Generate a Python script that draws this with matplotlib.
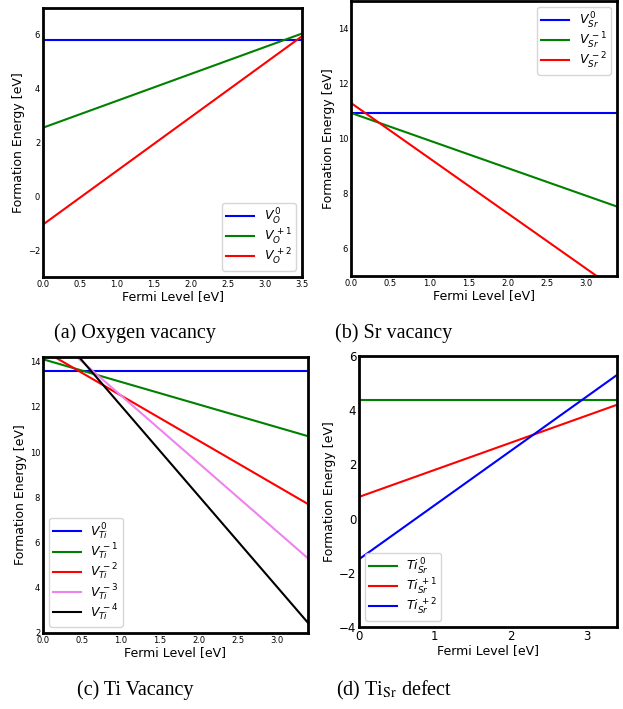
import matplotlib
matplotlib.use('Agg')
import matplotlib.pyplot as plt

# (a) oxygen vacancy, values read at Fermi level 0 and 3.5 eV
a_x = [0.0, 3.5]
a_vo0 = [5.8, 5.8]
a_vo1 = [2.55, 6.05]
a_vo2 = [-1.05, 5.95]

# (b) Sr vacancy, Fermi level 0 and 3.4 eV
b_x = [0.0, 3.4]
b_vsr0 = [10.92, 10.92]
b_vsr1 = [10.92, 7.52]
b_vsr2 = [11.28, 4.48]

# (c) Ti vacancy
c_x = [0.0, 3.4]
c_vti0 = [13.6, 13.6]
c_vti1 = [14.1, 10.7]
c_vti2 = [14.5, 7.7]
c_vti3 = [15.5, 5.3]
c_vti4 = [16.05, 2.45]

# (d) Ti on Sr site
d_x = [0.0, 3.4]
d_tisr0 = [4.38, 4.38]
d_tisr1 = [0.8, 4.2]
d_tisr2 = [-1.5, 5.3]

W, H = 623, 709
fig = plt.figure(figsize=(W / 100, H / 100), dpi=100)


def pix_axes(left, top, right, bottom):
    return fig.add_axes([left / W, 1 - bottom / H, (right - left) / W, (bottom - top) / H])


def style(ax, xlim, ylim, xticks, yticks, tsize):
    ax.set_xlim(xlim)
    ax.set_ylim(ylim)
    ax.set_xticks(xticks)
    ax.set_yticks(yticks)
    ax.tick_params(length=0, labelsize=tsize, pad=2)
    for s in ax.spines.values():
        s.set_linewidth(2)
    ax.set_xlabel('Fermi Level [eV]', fontsize=9, labelpad=1)
    ax.set_ylabel('Formation Energy [eV]', fontsize=9, labelpad=2)


def legend(ax, loc):
    ax.legend(loc=loc, fontsize=9, labelspacing=0.0, handlelength=2.2,
              borderpad=0.3, handletextpad=0.8)


lw = 1.5

# (a)
ax = pix_axes(43, 8, 302, 277)
ax.plot(a_x, a_vo0, color='b', lw=lw, label=r'$V_O^{\,0}$')
ax.plot(a_x, a_vo1, color='g', lw=lw, label=r'$V_O^{\,+1}$')
ax.plot(a_x, a_vo2, color='r', lw=lw, label=r'$V_O^{\,+2}$')
style(ax, (0, 3.5), (-3, 7), [0, 0.5, 1.0, 1.5, 2.0, 2.5, 3.0, 3.5], [-2, 0, 2, 4, 6], 6)
ax.set_xticklabels(['0.0', '0.5', '1.0', '1.5', '2.0', '2.5', '3.0', '3.5'])
legend(ax, 'lower right')

# (b)
ax = pix_axes(351, 0.5, 617, 276)
ax.plot(b_x, b_vsr0, color='b', lw=lw, label=r'$V_{Sr}^{\,0}$')
ax.plot(b_x, b_vsr1, color='g', lw=lw, label=r'$V_{Sr}^{\,-1}$')
ax.plot(b_x, b_vsr2, color='r', lw=lw, label=r'$V_{Sr}^{\,-2}$')
style(ax, (0, 3.4), (5, 15), [0, 0.5, 1.0, 1.5, 2.0, 2.5, 3.0], [6, 8, 10, 12, 14], 6)
ax.set_xticklabels(['0.0', '0.5', '1.0', '1.5', '2.0', '2.5', '3.0'])
legend(ax, 'upper right')

# (c)
ax = pix_axes(43, 357, 308, 633)
ax.plot(c_x, c_vti0, color='b', lw=lw, label=r'$V_{Ti}^{\,0}$')
ax.plot(c_x, c_vti1, color='g', lw=lw, label=r'$V_{Ti}^{\,-1}$')
ax.plot(c_x, c_vti2, color='r', lw=lw, label=r'$V_{Ti}^{\,-2}$')
ax.plot(c_x, c_vti3, color='violet', lw=lw, label=r'$V_{Ti}^{\,-3}$')
ax.plot(c_x, c_vti4, color='k', lw=lw, label=r'$V_{Ti}^{\,-4}$')
style(ax, (0, 3.4), (2, 14.2), [0, 0.5, 1.0, 1.5, 2.0, 2.5, 3.0], [2, 4, 6, 8, 10, 12, 14], 6)
ax.set_xticklabels(['0.0', '0.5', '1.0', '1.5', '2.0', '2.5', '3.0'])
legend(ax, 'lower left')

# (d)
ax = pix_axes(359, 356, 617, 627)
ax.plot(d_x, d_tisr0, color='g', lw=lw, label=r'$Ti_{Sr}^{\,0}$')
ax.plot(d_x, d_tisr1, color='r', lw=lw, label=r'$Ti_{Sr}^{\,+1}$')
ax.plot(d_x, d_tisr2, color='b', lw=lw, label=r'$Ti_{Sr}^{\,+2}$')
style(ax, (0, 3.4), (-4, 6), [0, 1, 2, 3], [-4, -2, 0, 2, 4, 6], 8.5)
legend(ax, 'lower left')

# captions
cap = dict(fontsize=14.5, family='Liberation Serif', ha='center', va='center',
           math_fontfamily='stix')
fig.text(135 / W, 1 - 333 / H, '(a) Oxygen vacancy', **cap)
fig.text(394 / W, 1 - 333 / H, '(b) Sr vacancy', **cap)
fig.text(135 / W, 1 - 690 / H, '(c) Ti Vacancy', **cap)
fig.text(394 / W, 1 - 690 / H, r'(d) Ti$_{\mathrm{Sr}}$ defect', **cap)

fig.savefig('out.png', dpi=100)
